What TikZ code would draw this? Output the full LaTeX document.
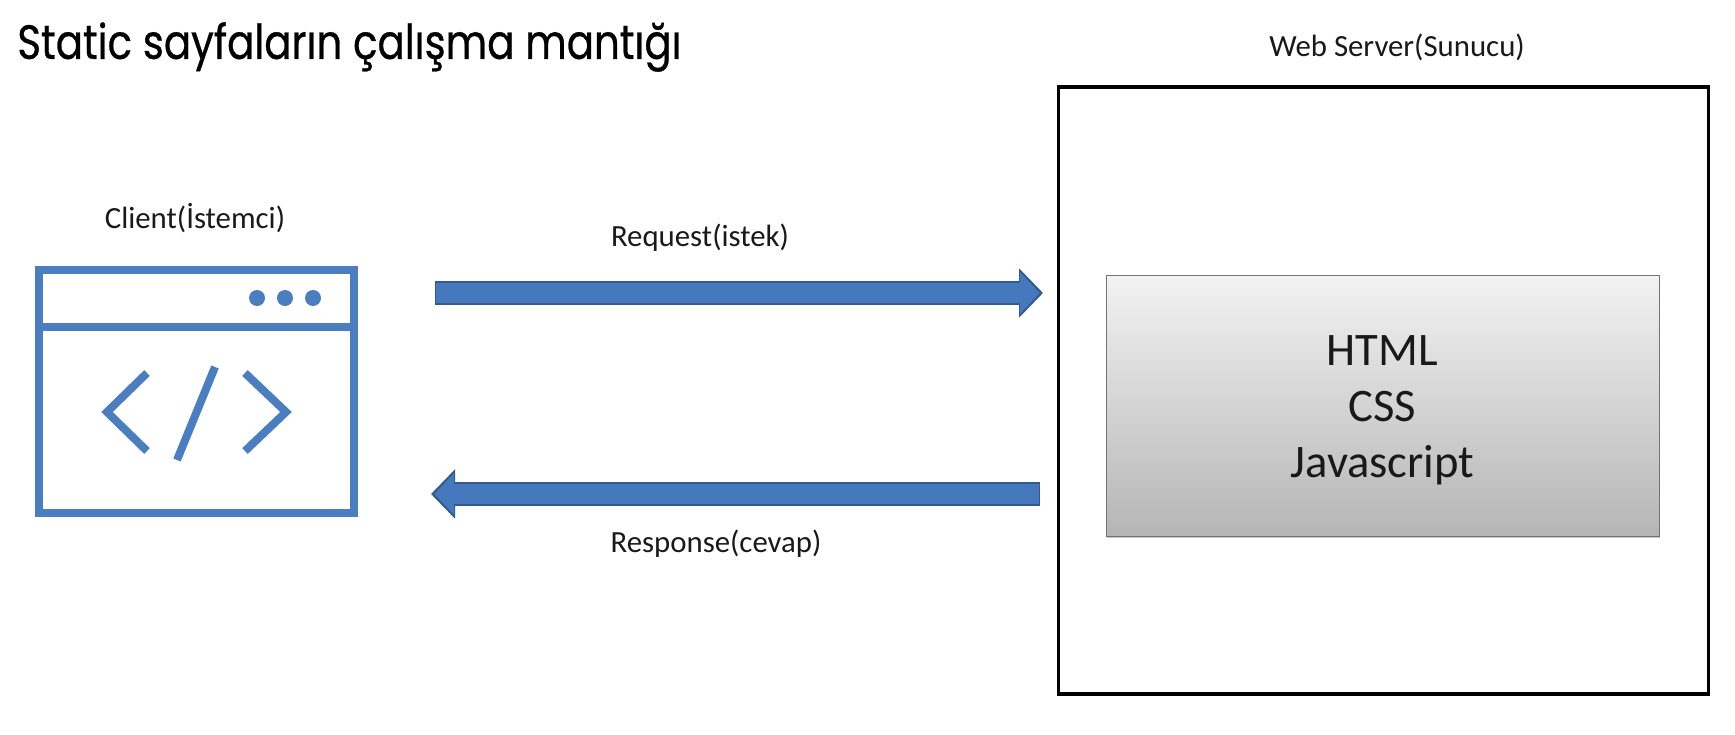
\documentclass[tikz,border=0pt]{standalone}
\usepackage{fontspec}
\setmainfont{Carlito}
\newfontfamily\titlefont[FakeStretch=0.84,FakeBold=0.6]{Poppins}
\usetikzlibrary{arrows.meta,shadows}
\definecolor{iconblue}{RGB}{75,126,192}
\definecolor{arrowblue}{RGB}{70,120,190}
\definecolor{arrowedge}{RGB}{50,90,145}
\tikzset{
    label text/.style={font=\fontsize{15.4}{18}\selectfont, text=black!90},
    iconline/.style={draw=iconblue, line width=4pt, line cap=butt},
    icondot/.style={circle, fill=iconblue, inner sep=0pt, minimum size=8pt},
    flow outer/.style={draw=arrowedge, line width=11.6pt, -{Triangle[length=12pt, width=24pt]}},
    flow inner/.style={draw=arrowblue, line width=9.6pt, -{Triangle[length=10pt, width=20.4pt]}},
}
\begin{document}
\begin{tikzpicture}[x=0.5pt,y=-0.5pt]
    \useasboundingbox (0,0) rectangle (1735,734);
    % title
    \node[anchor=west, font=\titlefont\fontsize{24}{28}\selectfont, inner sep=0pt] (title) at (17,47) {Static sayfaların çalışma mantığı};

    % client window
    \node[label text] (clientlabel) at (195,218) {Client(İstemci)};
    \node[draw=iconblue, line width=4pt, minimum width=157.5pt, minimum height=121.5pt, inner sep=0pt] (client) at (196.5,391.5) {};
    \coordinate (dividerL) at (39,327);
    \coordinate (dividerR) at (354,327);
    \draw[iconline] (dividerL) -- (dividerR);
    \node[icondot] (dot1) at (257,298) {};
    \node[icondot] (dot2) at (285,298) {};
    \node[icondot] (dot3) at (313,298) {};
    \draw[iconline] (147,373) -- (107,412) -- (147,451);
    \draw[iconline] (215,367) -- (177,460);
    \draw[iconline] (245,373) -- (286,412) -- (245,451);

    % server
    \node[label text] (serverlabel) at (1397,47) {Web Server(Sunucu)};
    \node[draw=black, line width=1.6pt, minimum width=325pt, minimum height=303.5pt, inner sep=0pt] (server) at (1383.5,390.5) {};
    \node[draw=black!55, line width=0.5pt, top color=black!5, bottom color=black!29, drop shadow={opacity=0.45, shadow xshift=0.7pt, shadow yshift=-0.8pt}, minimum width=276.5pt, minimum height=130.5pt, inner sep=0pt] (files) at (1382.5,405.5) {};
    \node[align=center, font=\fontsize{23.3}{28}\selectfont, text=black!90] (filestext) at (1382.5,410) {HTML\\CSS\\Javascript};

    % request and response
    \coordinate (reqstart) at (435,293);
    \coordinate (reqend) at (1043,293);
    \coordinate (resstart) at (1040,494);
    \coordinate (resend) at (431,494);
    \draw[flow outer] (reqstart) -- (reqend);
    \draw[flow inner, shorten >=1.6pt, shorten <=0.5pt] (reqstart) -- (reqend);
    \draw[flow outer] (resstart) -- (resend);
    \draw[flow inner, shorten >=1.6pt, shorten <=0.5pt] (resstart) -- (resend);
    \node[label text] (reqlabel) at (700,238) {Request(istek)};
    \node[label text] (reslabel) at (716,544) {Response(cevap)};
\end{tikzpicture}
\end{document}
